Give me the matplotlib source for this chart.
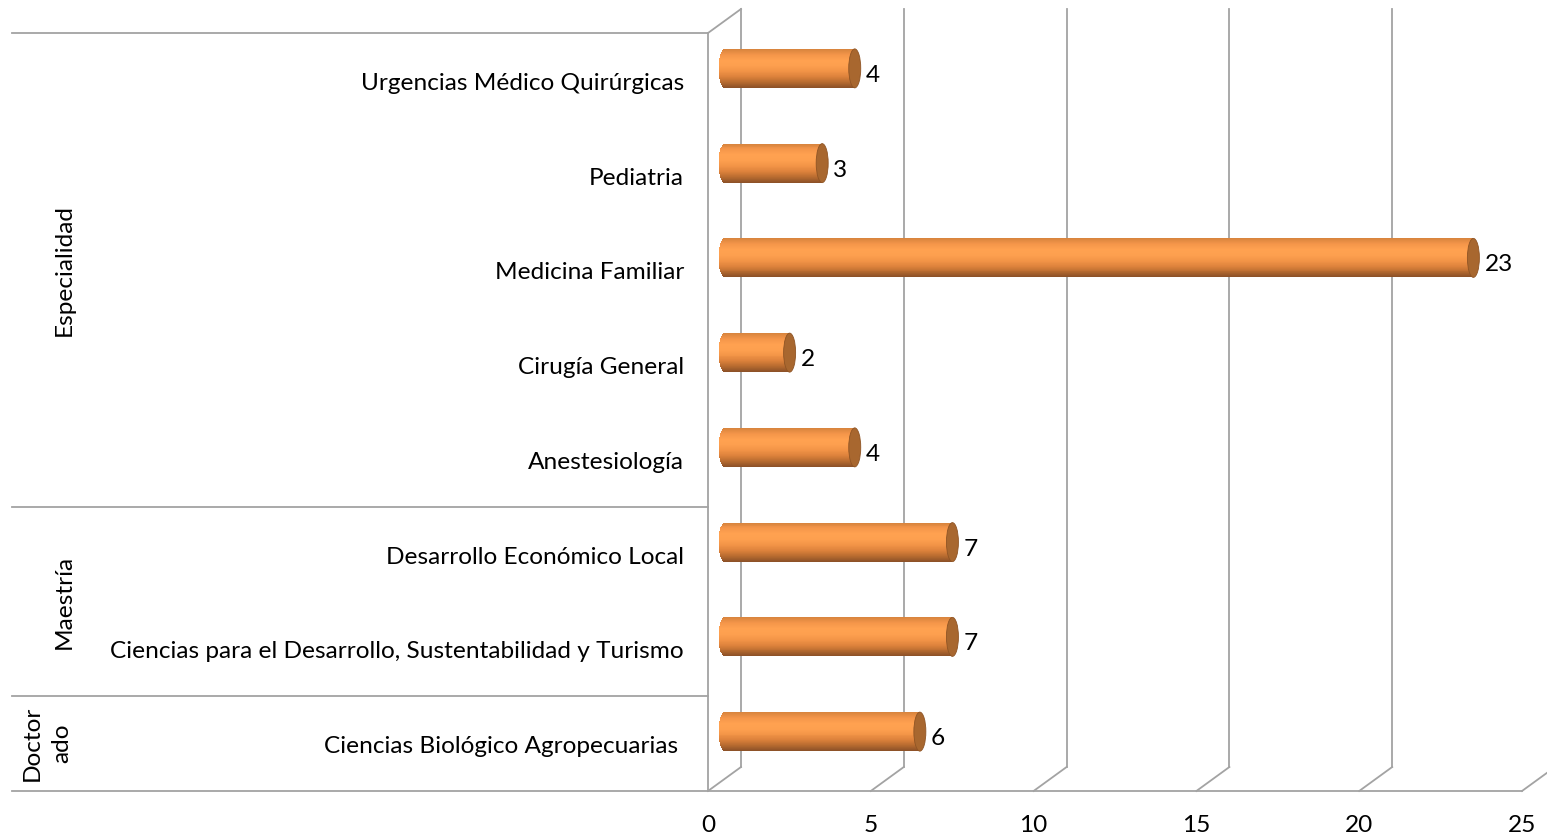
import numpy as np
import matplotlib
matplotlib.use("Agg")
import matplotlib.pyplot as plt
from matplotlib.patches import Rectangle, Ellipse
from matplotlib.colors import LinearSegmentedColormap

# data (top to bottom as shown)
programs = [
    "Urgencias Médico Quirúrgicas",
    "Pediatria",
    "Medicina Familiar",
    "Cirugía General",
    "Anestesiología",
    "Desarrollo Económico Local",
    "Ciencias para el Desarrollo, Sustentabilidad y Turismo",
    "Ciencias Biológico Agropecuarias ",
]
counts = [4, 3, 23, 2, 4, 7, 7, 6]
groups = ["Especialidad", "Maestría", "Doctor\nado"]
group_sizes = [5, 2, 1]
xticks = [0, 5, 10, 15, 20, 25]

W, H = 1547, 838
X0_PX, X25_PX = 708, 1522      # front plane x=0 / x=25
TOP_PX, FLOOR_PX = 33, 791      # front plane top / floor
XS = (X25_PX - X0_PX) / 25.0
YS = (FLOOR_PX - TOP_PX) / len(programs)
DX, DY = 33 / XS, 24 / YS       # depth of the 3D box in data units

plt.rcParams["font.family"] = ["Lato", "DejaVu Sans"]
FS = 17.6
fig = plt.figure(figsize=(W / 100, H / 100), dpi=100)
ax = fig.add_axes([0, 0, 1, 1])
ax.axis("off")
ax.set_xlim(-X0_PX / XS, (W - X0_PX) / XS)
ax.set_ylim(-0.5 - (H - FLOOR_PX) / YS, len(programs) - 0.5 + TOP_PX / YS)

GRID = "#a3a3a3"
LW = 1.3
n = len(programs)
ypos = np.arange(n)[::-1]          # 7 at top ... 0 at bottom
ybot, ytop = -0.5, n - 0.5

# back wall gridlines and floor diagonals
for t in xticks:
    ax.plot([t + DX, t + DX], [ybot + DY, ytop + DY], color=GRID, lw=LW, zorder=1)
    ax.plot([t, t + DX], [ybot, ybot + DY], color=GRID, lw=LW, zorder=1)
# side wall
ax.plot([0, 0], [ybot, ytop], color=GRID, lw=LW, zorder=1)
ax.plot([0, DX], [ytop, ytop + DY], color=GRID, lw=LW, zorder=1)
# front floor line
ax.plot([0, 25], [ybot, ybot], color=GRID, lw=LW, zorder=1)

# group separators in the label area
xleft = (12 - X0_PX) / XS
edges = np.cumsum([0] + group_sizes)
for e in edges:
    ax.plot([xleft, 0], [ytop - e, ytop - e], color=GRID, lw=LW, zorder=1)

# cylinder bars
cmap = LinearSegmentedColormap.from_list(
    "cyl", ["#d9853e", "#f5964a", "#ffa150", "#fda04f", "#f39447",
            "#de833c", "#b96c30", "#8e5228"])
bh = 39 / YS
ea = 6 / XS
N = 40
for y, v in zip(ypos, counts):
    yc = y + DY / 2
    x0 = DX / 2
    for k in range(N):
        yk0 = yc + bh / 2 - (k + 1) * bh / N
        tm = (yk0 + bh / (2 * N) - yc) / (bh / 2)
        left = x0 - ea * np.sqrt(max(0.0, 1 - tm ** 2))
        ax.add_patch(Rectangle((left, yk0), x0 + v - left, bh / N * 1.05,
                               facecolor=cmap(k / (N - 1)), edgecolor="none", zorder=3))
    ax.add_patch(Ellipse((x0 + v, yc), 2 * ea, bh, facecolor="#a8672f",
                         edgecolor="#8f5424", lw=0.6, zorder=4))
    ax.text(x0 + v + ea + 5 / XS, yc - 7 / YS, str(v), ha="left", va="center",
            fontsize=FS, color="black", zorder=5)

# category labels
for y, lab in zip(ypos, programs):
    ax.text(-24 / XS, y - 3 / YS, lab, ha="right", va="center", fontsize=FS, color="black")

# group labels (vertical)
for g, a, b, xp in zip(groups, edges[:-1], edges[1:], [64, 64, 47]):
    ax.text((xp - X0_PX) / XS, ytop - (a + b) / 2, g, rotation=90, ha="center",
            va="center", fontsize=FS, color="black", linespacing=1.55,
            multialignment="center")

# x tick labels
for t in xticks:
    ax.text(t, ybot - 34 / YS, str(t), ha="center", va="center", fontsize=FS, color="black")

fig.savefig("out.png", dpi=100)
